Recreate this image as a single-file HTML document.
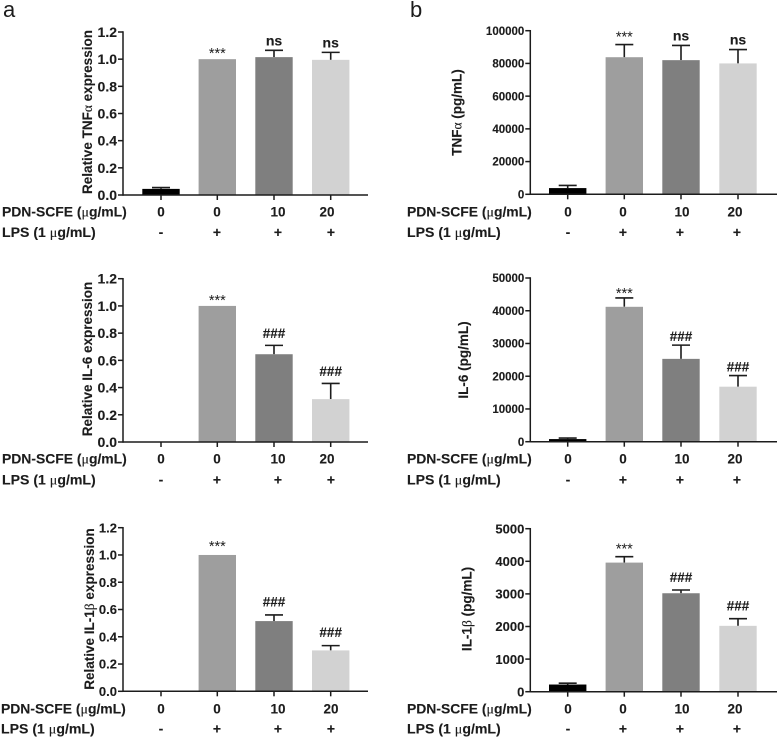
<!DOCTYPE html>
<html lang="en">
<head>
<meta charset="utf-8">
<title>Cytokine expression bar charts</title>
<style>
html,body{margin:0;padding:0;background:#fff;}
body{width:778px;height:739px;overflow:hidden;}
svg{display:block;}
text{font-family:"Liberation Sans",sans-serif;font-weight:bold;fill:#1c1c1c;stroke:#1c1c1c;stroke-width:0.12;}
.gk{font-family:"Liberation Serif",serif;font-weight:normal;}
</style>
</head>
<body>
<svg id="figure" xmlns="http://www.w3.org/2000/svg" width="778" height="739" viewBox="0 0 778 739">
<text x="3" y="17" font-size="22" style="font-weight:normal;stroke:none">a</text>
<text x="410" y="17" font-size="22" style="font-weight:normal;stroke:none">b</text>
</svg>
<script>
// ---- data ----
const doseLabels = ['0', '0', '10', '20'];
const lpsLabels = ['-', '+', '+', '+'];
const barColors = ['#000000', '#9e9e9e', '#7f7f7f', '#d2d2d2'];

const relativeTicks = ['0.0', '0.2', '0.4', '0.6', '0.8', '1.0', '1.2'];
const tnfTicks = ['0', '20000', '40000', '60000', '80000', '100000'];
const il6Ticks = ['0', '10000', '20000', '30000', '40000', '50000'];
const il1Ticks = ['0', '1000', '2000', '3000', '4000', '5000'];

const relTnfMeans = [0.045, 1.0, 1.015, 0.995];
const relTnfErrors = [0.01, 0, 0.05, 0.055];
const relTnfMarks = ['', '***', 'ns', 'ns'];

const relIl6Means = [0, 1.0, 0.645, 0.315];
const relIl6Errors = [0, 0, 0.065, 0.115];
const relIl6Marks = ['', '***', '###', '###'];

const relIl1Means = [0, 1.0, 0.515, 0.30];
const relIl1Errors = [0, 0, 0.045, 0.035];
const relIl1Marks = ['', '***', '###', '###'];

const tnfMeans = [3800, 83800, 82000, 80000];
const tnfErrors = [1600, 7700, 9000, 8500];
const tnfMarks = ['', '***', 'ns', 'ns'];

const il6Means = [800, 41200, 25300, 16800];
const il6Errors = [300, 2700, 4200, 3400];
const il6Marks = ['', '***', '###', '###'];

const il1Means = [220, 3960, 3020, 2020];
const il1Errors = [40, 180, 100, 220];
const il1Marks = ['', '***', '###', '###'];

const SVG_NS = 'http://www.w3.org/2000/svg';
const figure = document.getElementById('figure');

function shape(tag, attrs, parent) {
  const el = document.createElementNS(SVG_NS, tag);
  for (const k in attrs) el.setAttribute(k, attrs[k]);
  parent.appendChild(el);
  return el;
}

function rich(el, parts) {
  parts.forEach(function (p) {
    const span = document.createElementNS(SVG_NS, 'tspan');
    span.textContent = p[0];
    if (p[1]) span.setAttribute('class', 'gk');
    el.appendChild(span);
  });
}

const panels = [
  { id: 'relative-tnf', ticks: relativeTicks, means: relTnfMeans, errors: relTnfErrors, marks: relTnfMarks, max: 1.2,
    title: [['Relative TNF'], ['\u03b1', 1], [' expression']],
    frame: { left: 123, right: 368, top: 32, base: 195, titleX: 87, titleY: 112, tickSize: 14, row1: 212, row2: 232.5, labelX: 2 },
    centers: [161, 217.3, 274, 330.7], row1X: [161, 217, 278, 327], row2X: [161, 217, 278, 331], lift: { '***': 3, 'ns': 5, '###': 8 } },
  { id: 'relative-il6', ticks: relativeTicks, means: relIl6Means, errors: relIl6Errors, marks: relIl6Marks, max: 1.2,
    title: [['Relative IL-6 expression']],
    frame: { left: 123, right: 368, top: 278.7, base: 442, titleX: 87, titleY: 359, tickSize: 14, row1: 459, row2: 480, labelX: 2 },
    centers: [161, 217.3, 274, 330.7], row1X: [161, 217, 278, 327], row2X: [161, 217, 278, 331], lift: { '***': 3, 'ns': 5, '###': 7.5 } },
  { id: 'relative-il1b', ticks: relativeTicks, means: relIl1Means, errors: relIl1Errors, marks: relIl1Marks, max: 1.2,
    title: [['Relative IL-1'], ['\u03b2', 1], [' expression']],
    frame: { left: 123, right: 368, top: 527.7, base: 691.3, titleX: 89, titleY: 609, tickSize: 13, row1: 708.7, row2: 729, labelX: 1 },
    centers: [161, 217.3, 274, 330.7], row1X: [161, 217, 278, 331], row2X: [161, 217, 278, 331], lift: { '***': 6, 'ns': 5, '###': 8.5 } },
  { id: 'tnf', ticks: tnfTicks, means: tnfMeans, errors: tnfErrors, marks: tnfMarks, max: 100000,
    title: [['TNF'], ['\u03b1', 1], [' (pg/mL)']],
    frame: { left: 530.3, right: 777, top: 30.7, base: 194.3, titleX: 456.7, titleY: 112.5, tickSize: 11.5, row1: 212, row2: 232.5, labelX: 407 },
    centers: [567.7, 624.3, 681, 738], row1X: [568, 623, 682, 735], row2X: [568, 623, 680, 737], lift: { '***': 5, 'ns': 5, '###': 8 } },
  { id: 'il6', ticks: il6Ticks, means: il6Means, errors: il6Errors, marks: il6Marks, max: 50000,
    title: [['IL-6 (pg/mL)']],
    frame: { left: 530.3, right: 777, top: 278, base: 441.7, titleX: 463, titleY: 360, tickSize: 11.5, row1: 459, row2: 480, labelX: 407 },
    centers: [567.7, 624.3, 681, 738], row1X: [568, 623, 682, 735], row2X: [568, 623, 680, 737], lift: { '***': 2, 'ns': 5, '###': 4 } },
  { id: 'il1b', ticks: il1Ticks, means: il1Means, errors: il1Errors, marks: il1Marks, max: 5000,
    title: [['IL-1'], ['\u03b2', 1], [' (pg/mL)']],
    frame: { left: 530.3, right: 777, top: 528.7, base: 691.7, titleX: 466.7, titleY: 609, tickSize: 13, row1: 709, row2: 729, labelX: 407 },
    centers: [567.7, 624.3, 681, 738], row1X: [568, 623, 682, 735], row2X: [568, 623, 680, 737], lift: { '***': 5, 'ns': 5, '###': 8 } }
];

panels.forEach(function (p) {
  const f = p.frame;
  const yScale = function (v) { return f.base - (v / p.max) * (f.base - f.top); };

  const g = shape('g', {}, figure);
  
  

  // error whiskers sit behind the bars
  p.means.forEach(function (m, i) {
    if (!p.errors[i]) return;
    const cx = p.centers[i];
    const yTop = yScale(m + p.errors[i]);
    const err = shape('path', { d: 'M' + cx + ' ' + yScale(m) + 'V' + yTop + 'M' + (cx - 9) + ' ' + yTop + 'H' + (cx + 9), stroke: '#1c1c1c', 'stroke-width': 1.6, fill: 'none' }, g);
    
    
  });

  p.means.forEach(function (m, i) {
    const yTop = yScale(m);
    const bar = shape('rect', { x: p.centers[i] - 18.7, y: yTop, width: 37.4, height: f.base - yTop, fill: barColors[i] }, g);
    
    
  });

  // axes
  const yAxis = shape('line', { x1: f.left, x2: f.left, y1: f.top - 0.7, y2: f.base + 0.7, stroke: '#1c1c1c', 'stroke-width': 1.5 }, g);
  
  
  const xAxis = shape('line', { x1: f.left, x2: f.right, y1: f.base, y2: f.base, stroke: '#1c1c1c', 'stroke-width': 1.5 }, g);
  
  

  p.ticks.forEach(function (t) {
    const y = yScale(Number(t));
    const tick = shape('line', { x1: f.left - 5, x2: f.left, y1: y, y2: y, stroke: '#1c1c1c', 'stroke-width': 1.5 }, g);
    
    
    const lab = shape('text', { x: f.left - 6, y: y + f.tickSize * 0.36, 'text-anchor': 'end', 'font-size': f.tickSize }, g);
    lab.textContent = t;
    
    
  });

  p.centers.forEach(function (cx) {
    const tick = shape('line', { x1: cx, x2: cx, y1: f.base, y2: f.base + 5, stroke: '#1c1c1c', 'stroke-width': 1.5 }, g);
    
    
  });

  // y axis title
  const title = shape('text', { transform: 'translate(' + (f.titleX + 5) + ' ' + f.titleY + ') rotate(-90)', 'text-anchor': 'middle', 'font-size': 13.5 }, g);
  rich(title, p.title);
  
  

  // significance marks
  p.marks.forEach(function (mark, i) {
    if (!mark) return;
    const yTop = yScale(p.means[i] + p.errors[i]) - p.lift[mark];
    const size = mark === '***' ? 14.5 : (mark === 'ns' ? 14 : 13.5);
    const baseline = mark === '***' ? yTop + 2 : yTop;
    const t = shape('text', { x: p.centers[i], y: baseline, 'text-anchor': 'middle', 'font-size': size }, g);
    if (mark === '***') t.setAttribute('style', 'font-weight:normal;stroke:none');
    t.textContent = mark;
    
    
  });

  // treatment rows
  const row1 = shape('text', { x: f.labelX, y: f.row1 + 4.7, 'font-size': 13.9 }, g);
  rich(row1, [['PDN-SCFE ('], ['\u03bc', 1], ['g/mL)']]);
  
  
  const row2 = shape('text', { x: f.labelX, y: f.row2 + 4.7, 'font-size': 14.1 }, g);
  rich(row2, [['LPS (1 '], ['\u03bc', 1], ['g/mL)']]);
  
  

  doseLabels.forEach(function (d, i) {
    const t = shape('text', { x: p.row1X[i], y: f.row1 + 4.7, 'text-anchor': 'middle', 'font-size': 13.5 }, g);
    t.textContent = d;
    
    
  });
  lpsLabels.forEach(function (d, i) {
    const t = shape('text', { x: p.row2X[i], y: f.row2 + 4.7, 'text-anchor': 'middle', 'font-size': 14 }, g);
    t.textContent = d;
    
    
  });
});
</script>
</body>
</html>
